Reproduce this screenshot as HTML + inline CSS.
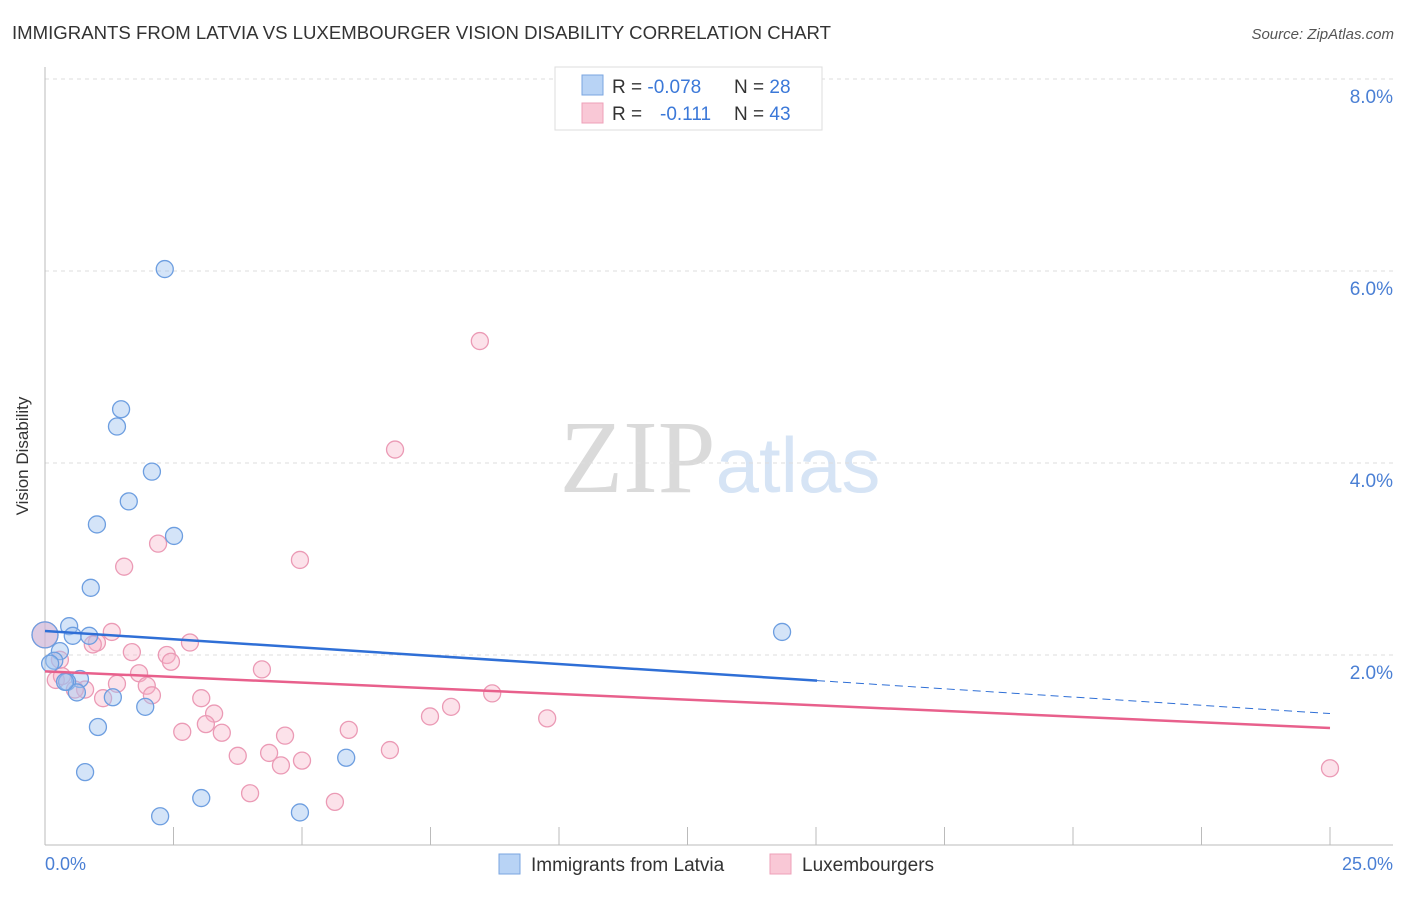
<!DOCTYPE html>
<html><head><meta charset="utf-8"><style>
body{margin:0;background:#fff;font-family:"Liberation Sans",sans-serif;}
svg text{font-family:"Liberation Sans",sans-serif;}
</style></head><body>
<svg id="chart" width="1406" height="892" xmlns="http://www.w3.org/2000/svg">
<text x="12" y="39" font-size="18.6" fill="#333">IMMIGRANTS FROM LATVIA VS LUXEMBOURGER VISION DISABILITY CORRELATION CHART</text>
<text x="1394" y="39" font-size="15" fill="#555" font-style="italic" text-anchor="end">Source: ZipAtlas.com</text>
<text x="720" y="492" font-size="104" fill="#e4e4e4" text-anchor="middle" font-family="Liberation Serif"><tspan font-family="Liberation Serif" fill="#dadada">ZIP</tspan><tspan font-family="Liberation Sans" font-size="78" fill="#d6e4f5">atlas</tspan></text>
<g id="grid"></g>
<line x1="45" y1="67" x2="45" y2="845" stroke="#bbb"/>
<line x1="45" y1="845" x2="1393" y2="845" stroke="#bbb"/>
<text x="28" y="456" font-size="17" fill="#333" text-anchor="middle" transform="rotate(-90 28 456)">Vision Disability</text>
<text x="45" y="870" font-size="18" fill="#4a7fd4">0.0%</text>
<text x="1393" y="870" font-size="18" fill="#4a7fd4" text-anchor="end">25.0%</text>
<g id="pts"></g>
<g id="trends"></g>
<g>
<rect x="555" y="67" width="267" height="63" fill="#fff" stroke="#ddd"/>
<rect x="582" y="75" width="21" height="20" fill="#b8d3f5" stroke="#7aa6e0"/>
<rect x="582" y="103" width="21" height="20" fill="#f9c8d6" stroke="#eea0b8"/>
<text x="612" y="93" font-size="19" fill="#333">R = <tspan fill="#3b78d8">-0.078</tspan></text>
<text x="734" y="93" font-size="19" fill="#333">N = <tspan fill="#3b78d8">28</tspan></text>
<text x="612" y="120" font-size="19" fill="#333">R = <tspan fill="#3b78d8" x="660">-0.111</tspan></text>
<text x="734" y="120" font-size="19" fill="#333">N = <tspan fill="#3b78d8">43</tspan></text>
</g>
<g>
<rect x="499" y="854" width="21" height="20" fill="#b8d3f5" stroke="#7aa6e0"/>
<text x="531" y="871" font-size="19" fill="#333">Immigrants from Latvia</text>
</g>
<g>
<rect x="770" y="854" width="21" height="20" fill="#f9c8d6" stroke="#eea0b8"/>
<text x="802" y="871" font-size="19" fill="#333">Luxembourgers</text>
</g>
</svg>
<script>
const yTicks=[2,4,6,8];
const yTickLabels=["2.0%","4.0%","6.0%","8.0%"];
const xTicks=[0,2.5,5,7.5,10,12.5,15,17.5,20,22.5,25];
const blueX=[2.33,1.48,1.40,2.08,1.63,1.01,2.51,0.89,0.47,0.54,0.86,0.29,0.18,0.10,0.68,0.43,0.62,1.32,1.95,1.03,0.78,3.04,2.24,4.96,5.86,14.34,0.0,0.39];
const blueY=[6.02,4.56,4.38,3.91,3.60,3.36,3.24,2.70,2.30,2.20,2.20,2.04,1.94,1.91,1.75,1.72,1.61,1.56,1.46,1.25,0.78,0.51,0.32,0.36,0.93,2.24,2.21,1.72];
const pinkX=[8.46,6.81,4.96,2.20,1.54,1.30,2.82,1.01,0.93,1.69,2.37,2.45,1.83,4.22,0.21,0.33,0.78,1.40,1.98,2.08,1.13,3.04,8.70,7.49,7.90,9.77,3.29,3.13,2.67,3.44,5.91,4.67,3.75,4.36,6.71,4.59,5.00,3.99,5.64,25.0,0.0,0.58,0.29];
const pinkY=[5.27,4.14,2.99,3.16,2.92,2.24,2.13,2.13,2.11,2.03,2.00,1.93,1.81,1.85,1.74,1.78,1.64,1.70,1.68,1.58,1.55,1.55,1.60,1.36,1.46,1.34,1.39,1.28,1.20,1.19,1.22,1.16,0.95,0.98,1.01,0.85,0.90,0.56,0.47,0.82,2.21,1.64,1.95];
const blueTrend=[2.25,1.39];
const pinkTrend=[1.83,1.24];
const sx=v=>45+v*1285/25, sy=v=>847-v*96;
const NS="http://www.w3.org/2000/svg";
function mk(tag,attrs,parent){const e=document.createElementNS(NS,tag);for(const k in attrs)e.setAttribute(k,attrs[k]);parent.appendChild(e);return e;}
const grid=document.getElementById('grid');
yTicks.forEach((t,i)=>{
 const l=mk('line',{x1:45,x2:1393,y1:sy(t),y2:sy(t),stroke:'#ddd','stroke-dasharray':'4,4'},grid);
 
 
 const tx=mk('text',{x:1393,y:sy(t)+24,'font-size':19,fill:'#4a7fd4','text-anchor':'end'},grid);
 tx.textContent=yTickLabels[i];
 
 
});
xTicks.forEach(t=>{
 const l=mk('line',{x1:sx(t),x2:sx(t),y1:827,y2:845,stroke:'#bbb'},grid);
 
 
});
const pts=document.getElementById('pts');
pinkX.forEach((x,i)=>{
 const big=(x===0);
 const c=mk('circle',{cx:sx(x),cy:sy(pinkY[i]),r:big?13:8.5,fill:'rgba(246,180,200,0.38)',stroke:'#eb9ab5','stroke-width':1.3},pts);
 
 
});
blueX.forEach((x,i)=>{
 const big=(x===0);
 const c=mk('circle',{cx:sx(x),cy:sy(blueY[i]),r:big?13:8.5,fill:big?'rgba(190,180,220,0.5)':'rgba(160,196,240,0.45)',stroke:'#6d9ee0','stroke-width':1.3},pts);
 
 
});
const tr=document.getElementById('trends');
const bAt=x=>blueTrend[0]+(blueTrend[1]-blueTrend[0])*x/25;
const b1=mk('line',{x1:sx(0),y1:sy(bAt(0)),x2:sx(15.02),y2:sy(bAt(15.02)),stroke:'#2f6fd6','stroke-width':2.5},tr);


const b2=mk('line',{x1:sx(15.02),y1:sy(bAt(15.02)),x2:sx(25),y2:sy(bAt(25)),stroke:'#2f6fd6','stroke-width':1,'stroke-dasharray':'8,5'},tr);


const p1=mk('line',{x1:sx(0),y1:sy(pinkTrend[0]),x2:sx(25),y2:sy(pinkTrend[1]),stroke:'#e8608c','stroke-width':2.5},tr);


</script>
</body></html>
